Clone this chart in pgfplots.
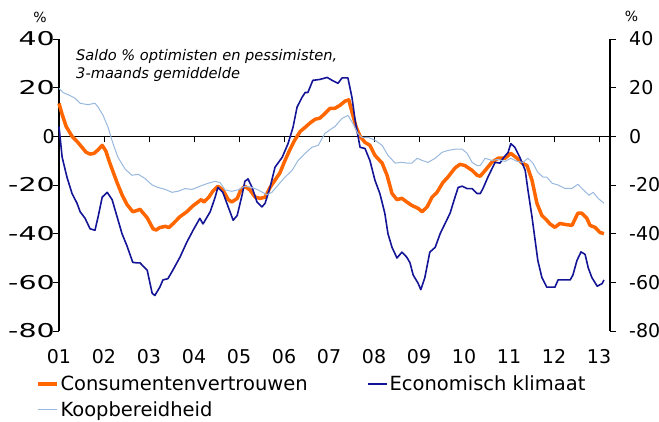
\documentclass[border=0pt]{standalone}
\usepackage{fontspec}
\setmainfont{DejaVu Sans}
\usepackage{graphicx}
\usepackage{pgfplots}
\pgfplotsset{compat=1.18}
\definecolor{cvorange}{RGB}{255,102,0}
\definecolor{ekblue}{RGB}{20,20,150}
\definecolor{kblue}{RGB}{153,184,222}
\newcommand\fs[1]{\fontsize{#1}{#1}\selectfont}
\newcommand\sx[1]{\scalebox{1.5}[1]{#1}}
\begin{document}
\begin{tikzpicture}[x=1pt,y=1pt]
% axis B: zero line with ticks, right y axis, legend for blue
\begin{axis}[
  at={(0pt,0pt)}, anchor=south west,
  scale only axis, width=551pt, height=292pt,
  xmin=0, xmax=12.244, ymin=-80, ymax=40,
  axis x line=middle, axis y line*=right,
  axis line style={-, line width=1.1pt, black},
  xtick={0,...,12}, xticklabels={},
  ytick={-80,-60,...,40},
  yticklabels={-80,-60,-40,-20,0,20,40},
  yticklabel style={font=\fs{19}, anchor=west, inner sep=0pt, xshift=13pt},
  tick align=outside, major tick length=6pt,
  tick style={black, line width=0.9pt},
  legend style={at={(0.55898,-0.15753)}, anchor=north west, draw=none, fill=none,
    inner sep=0pt, outer sep=0pt, row sep=12pt, font=\fs{19.5},
    nodes={inner sep=0pt, text height=14pt, text depth=0pt},
    /tikz/every odd column/.append style={column sep=2pt}},
  legend cell align=left,
  legend image code/.code={\draw[#1] (0pt,0pt) -- (19pt,0pt);},
]
\addlegendimage{ekblue, line width=1.6pt}
\addlegendentry{Economisch klimaat}
\end{axis}
% axis A: data, left y axis, x labels
\begin{axis}[
  at={(0pt,0pt)}, anchor=south west,
  scale only axis, width=551pt, height=292pt,
  xmin=0, xmax=12.244, ymin=-80, ymax=40,
  axis y line*=left, axis x line*=bottom,
  y axis line style={-, line width=1.1pt, black},
  x axis line style={draw=none},
  xtick={0,...,12},
  xticklabels={01,02,03,04,05,06,07,08,09,10,11,12,13},
  x tick style={draw=none},
  xticklabel style={font=\fs{19}, anchor=base, inner sep=0pt, yshift=-33pt},
  ytick={-80,-60,...,40},
  yticklabels={\sx{-80},\sx{-60},\sx{-40},\sx{-20},0\hspace{17pt},\sx{20},\sx{40}},
  yticklabel style={font=\fs{19}, anchor=east, inner sep=0pt, xshift=2pt},
  ytick align=outside, major tick length=6pt,
  y tick style={black, line width=0.9pt},
  clip=false,
  legend style={at={(-0.04174,-0.15753)}, anchor=north west, draw=none, fill=none,
    inner sep=0pt, outer sep=0pt, row sep=12pt, font=\fs{19.5},
    nodes={inner sep=0pt, text height=14pt, text depth=0pt},
    /tikz/every odd column/.append style={column sep=2pt}},
  legend cell align=left,
  legend image code/.code={\draw[#1] (0pt,0pt) -- (19pt,0pt);},
]
\addplot[cvorange, line width=3.5pt, line join=round] coordinates {
(0.00,13.5) (0.07,9) (0.16,4) (0.29,0) (0.42,-2.5) (0.51,-4.5) (0.60,-6.5) (0.69,-7.3) (0.78,-7) (0.87,-5.5) (0.96,-3.7) (1.04,-6) (1.13,-11) (1.29,-19) (1.40,-24) (1.51,-28) (1.64,-31) (1.73,-30.5) (1.80,-30) (1.96,-33.5) (2.09,-38) (2.16,-38.5) (2.24,-37.5) (2.36,-37) (2.44,-37.5) (2.53,-36) (2.69,-33) (2.84,-31) (2.98,-28.5) (3.09,-27) (3.16,-26) (3.22,-27) (3.33,-25) (3.42,-22.5) (3.53,-20.5) (3.64,-22) (3.76,-26) (3.84,-27) (3.96,-25.5) (4.04,-22) (4.13,-20.5) (4.24,-22) (4.36,-25) (4.47,-25.5) (4.58,-25) (4.69,-21) (4.80,-18) (4.91,-15) (5.02,-10) (5.13,-5.5) (5.24,-1.5) (5.36,2) (5.47,3.7) (5.58,5.5) (5.69,7) (5.80,7.5) (5.91,9.4) (6.02,11.5) (6.13,11.5) (6.24,12.7) (6.36,14.5) (6.44,15) (6.51,10) (6.60,4) (6.69,0) (6.80,-2.5) (6.91,-3.7) (7.02,-7.8) (7.18,-11) (7.29,-16) (7.40,-23.5) (7.51,-26) (7.62,-25.5) (7.73,-27) (7.84,-28.4) (7.98,-29.6) (8.07,-31) (8.18,-29) (8.29,-25) (8.40,-23) (8.53,-19) (8.64,-16.8) (8.80,-13) (8.91,-11.5) (9.02,-12) (9.18,-14) (9.29,-16) (9.36,-16.4) (9.47,-14) (9.62,-10.6) (9.76,-9) (9.91,-9) (10.04,-7) (10.18,-9) (10.29,-11) (10.40,-12) (10.51,-18) (10.62,-27.5) (10.73,-32.5) (10.84,-34.5) (10.91,-36) (11.02,-37.4) (11.13,-35.8) (11.24,-36.2) (11.40,-36.6) (11.53,-31.6) (11.62,-31.6) (11.73,-33.7) (11.80,-36.6) (11.91,-37.4) (12.02,-39.5) (12.11,-40)
};
\addplot[ekblue, line width=1.6pt, line join=round, forget plot] coordinates {
(0.00,4) (0.07,-8.6) (0.18,-17) (0.29,-23.5) (0.40,-27.5) (0.47,-31) (0.58,-33.7) (0.69,-38) (0.80,-38.6) (0.87,-33) (0.96,-25) (1.07,-23) (1.18,-26) (1.29,-33) (1.40,-40) (1.51,-45) (1.64,-51.8) (1.73,-52) (1.80,-52) (1.96,-55) (2.07,-64.5) (2.13,-65.4) (2.24,-62) (2.31,-59) (2.42,-58.5) (2.53,-55) (2.69,-49.6) (2.84,-43.5) (2.98,-38.6) (3.13,-33.7) (3.20,-36) (3.36,-31) (3.47,-25) (3.53,-21) (3.64,-23) (3.76,-29) (3.87,-34.5) (3.96,-32.5) (4.07,-24) (4.13,-18.5) (4.20,-17.5) (4.29,-21) (4.40,-27) (4.51,-29) (4.58,-27.5) (4.69,-21) (4.80,-12.7) (4.96,-8.6) (5.09,-3) (5.20,3.7) (5.29,12) (5.40,16) (5.47,18) (5.53,18) (5.64,23) (5.80,23.4) (5.96,24.2) (6.07,23) (6.20,21.8) (6.29,24) (6.42,24) (6.51,16) (6.58,6.6) (6.69,-4.5) (6.80,-5) (6.91,-10) (7.02,-18) (7.13,-23.5) (7.24,-31.6) (7.31,-40) (7.40,-45.6) (7.51,-50) (7.62,-47.6) (7.73,-49.7) (7.80,-52) (7.87,-57) (7.98,-60.4) (8.04,-63) (8.13,-58) (8.24,-47.6) (8.36,-45.6) (8.47,-40) (8.58,-35.8) (8.69,-31.6) (8.80,-25) (8.87,-21) (8.96,-20.5) (9.07,-21.5) (9.18,-21.5) (9.29,-23.5) (9.36,-23.5) (9.42,-21.5) (9.53,-16.8) (9.69,-10.7) (9.80,-11) (9.87,-9) (9.98,-6.6) (10.04,-3) (10.13,-4.5) (10.24,-8.6) (10.36,-14) (10.42,-22) (10.51,-33) (10.58,-42.7) (10.64,-51) (10.73,-58) (10.84,-62) (10.96,-62) (11.02,-62) (11.09,-59) (11.20,-59) (11.36,-59) (11.42,-57) (11.51,-51) (11.60,-47.5) (11.69,-48.5) (11.76,-54) (11.84,-58) (11.96,-61.6) (12.07,-60.5) (12.11,-59)
};
\addplot[kblue, line width=1pt, line join=round] coordinates {
(0.00,19.7) (0.09,18) (0.24,16.8) (0.36,15.6) (0.47,13.6) (0.64,13) (0.80,13.6) (0.87,12) (0.98,8.6) (1.09,3.7) (1.20,-3) (1.31,-8.6) (1.47,-13.5) (1.62,-16) (1.76,-15.6) (1.91,-17.3) (2.07,-20) (2.20,-21) (2.36,-21.8) (2.51,-23) (2.64,-22.6) (2.80,-21.5) (2.96,-21.8) (3.07,-21) (3.13,-20.5) (3.31,-19.3) (3.47,-18.5) (3.58,-19) (3.69,-22) (3.84,-22.6) (3.98,-22) (4.13,-20.5) (4.29,-21) (4.42,-22) (4.62,-24) (4.73,-23) (4.87,-20) (5.02,-16.8) (5.18,-14) (5.31,-10) (5.47,-7) (5.62,-4.5) (5.76,-3.7) (5.91,1.2) (6.07,3.3) (6.13,4) (6.29,7.4) (6.42,8.6) (6.53,5.3) (6.64,1.2) (6.73,-0.4) (6.87,-0.4) (7.02,-1.6) (7.18,-3.7) (7.31,-7.8) (7.47,-11) (7.62,-10.7) (7.73,-11) (7.84,-11) (7.96,-9) (8.07,-9.9) (8.20,-10.7) (8.36,-9) (8.51,-6.6) (8.64,-5.8) (8.80,-5.3) (8.96,-5.3) (9.07,-7) (9.18,-10.7) (9.29,-12) (9.36,-12) (9.47,-9) (9.62,-9.9) (9.76,-9.5) (9.91,-10.3) (10.04,-9) (10.18,-10.3) (10.31,-10.7) (10.42,-9) (10.53,-11) (10.64,-14.8) (10.76,-16.8) (10.84,-16.8) (10.96,-19.3) (11.09,-20) (11.24,-21.4) (11.40,-21.4) (11.53,-19.7) (11.64,-21.8) (11.78,-24.2) (11.87,-23) (11.98,-25.5) (12.11,-27.5)
};
\legend{Consumentenvertrouwen,Koopbereidheid}
\node[anchor=base west, inner sep=0pt, font=\fs{14.6}\itshape] at (rel axis cs:0.0309,0.928) {Saldo \% optimisten en pessimisten,};
\node[anchor=base west, inner sep=0pt, font=\fs{14.6}\itshape] at (rel axis cs:0.0309,0.866) {3-maands gemiddelde};
\node[anchor=base, inner sep=0pt, font=\fs{14}] at (rel axis cs:-0.0345,1.0548) {\%};
\node[anchor=base, inner sep=0pt, font=\fs{14}] at (rel axis cs:1.039,1.0616) {\%};
\end{axis}
\pgfresetboundingbox
\path[use as bounding box] (-59pt,-91pt) rectangle (600pt,331pt);
\end{tikzpicture}
\end{document}
